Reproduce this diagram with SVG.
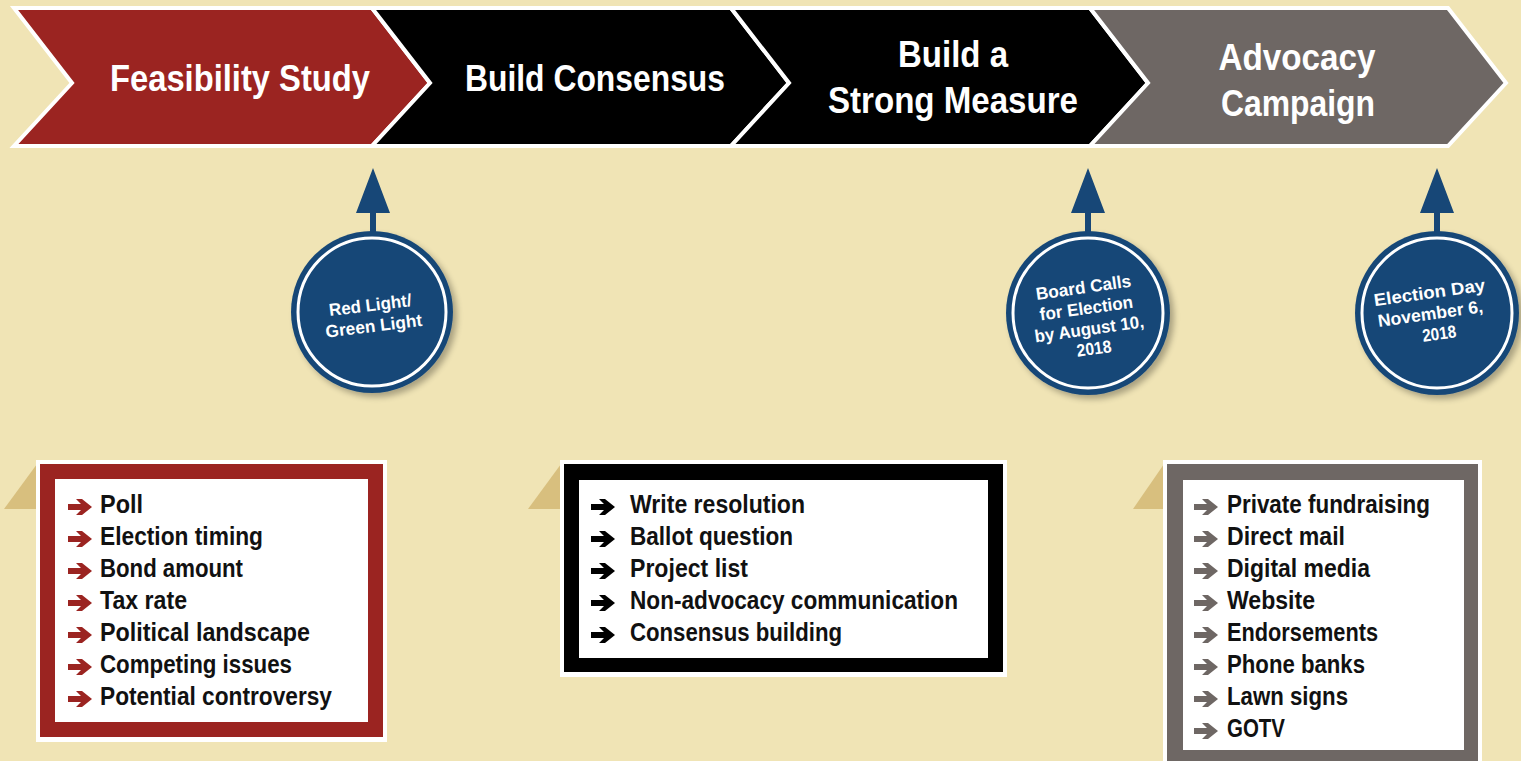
<svg xmlns="http://www.w3.org/2000/svg" width="1521" height="761" viewBox="0 0 1521 761">
<defs>
<style>
.chev{stroke:#fff;stroke-width:4;stroke-linejoin:miter}
.ct{font-family:"Liberation Sans",Arial,sans-serif;font-weight:bold;font-size:37px;fill:#fff;text-anchor:middle}
.cc{font-family:"Liberation Sans",Arial,sans-serif;font-weight:bold;font-size:17.5px;fill:#fff;text-anchor:middle}
.it{font-family:"Liberation Sans",Arial,sans-serif;font-weight:bold;font-size:25px;fill:#111}
.blue{fill:#174777}
.ring{fill:none;stroke:#fff;stroke-width:3}
.tab{fill:#D8BF7E}
</style>
<filter id="sh" x="-30%" y="-30%" width="160%" height="160%">
<feGaussianBlur in="SourceAlpha" stdDeviation="3"/>
<feOffset dx="4" dy="4" result="b"/>
<feComponentTransfer><feFuncA type="linear" slope="0.3"/></feComponentTransfer>
<feMerge><feMergeNode/><feMergeNode in="SourceGraphic"/></feMerge>
</filter>
<path id="arr" d="M0,-3 H13 L8,-8 H14 L24,0 L14,8 H8 L13,3 H0 Z"/>
<path id="pin" d="M-3,0 V-21 H-17 L0,-66 L17,-21 H3 V0 Z"/>
</defs>
<rect width="1521" height="761" fill="#F0E4B5"/>

<g id="stage-feasibility">
<polygon class="chev" fill="#9B2421" points="14,8 372,8 430,83 372,146 14,146 72,83"/>
<text class="ct" x="240" y="91" textLength="260" lengthAdjust="spacingAndGlyphs">Feasibility Study</text>
</g>
<g id="stage-consensus">
<polygon class="chev" fill="#000" points="372,8 731,8 789,83 731,146 372,146 430,83"/>
<text class="ct" x="595" y="91" textLength="260" lengthAdjust="spacingAndGlyphs">Build Consensus</text>
</g>
<g id="stage-measure">
<polygon class="chev" fill="#000" points="731,8 1090,8 1148,83 1090,146 731,146 789,83"/>
<text class="ct" x="953" y="67" textLength="110" lengthAdjust="spacingAndGlyphs">Build a</text>
<text class="ct" x="953" y="113" textLength="250" lengthAdjust="spacingAndGlyphs">Strong Measure</text>
</g>
<g id="stage-advocacy">
<polygon class="chev" fill="#6E6764" points="1090,8 1448,8 1506,83 1448,146 1090,146 1148,83"/>
<text class="ct" x="1297" y="70" textLength="157" lengthAdjust="spacingAndGlyphs">Advocacy</text>
<text class="ct" x="1298" y="116" textLength="154" lengthAdjust="spacingAndGlyphs">Campaign</text>
</g>

<g id="connectors">
<use href="#pin" x="373" y="234" class="blue"/>
<use href="#pin" x="1088" y="234" class="blue"/>
<use href="#pin" x="1437" y="234" class="blue"/>
</g>

<g id="milestone-redlight">
<circle class="blue" cx="372" cy="312" r="81" filter="url(#sh)"/>
<circle class="ring" cx="372" cy="312" r="74"/>
<g transform="rotate(-7 372 320)">
<text class="cc" x="372" y="311" textLength="83" lengthAdjust="spacingAndGlyphs">Red Light/</text>
<text class="cc" x="373" y="332" textLength="97" lengthAdjust="spacingAndGlyphs">Green Light</text>
</g>
</g>
<g id="milestone-board">
<circle class="blue" cx="1088" cy="313" r="82" filter="url(#sh)"/>
<circle class="ring" cx="1088" cy="313" r="75"/>
<g transform="rotate(-8 1088 320)">
<text class="cc" x="1088" y="293" textLength="96" lengthAdjust="spacingAndGlyphs">Board Calls</text>
<text class="cc" x="1088" y="314" textLength="94" lengthAdjust="spacingAndGlyphs">for Election</text>
<text class="cc" x="1088" y="335" textLength="110" lengthAdjust="spacingAndGlyphs">by August 10,</text>
<text class="cc" x="1090" y="355" textLength="35" lengthAdjust="spacingAndGlyphs">2018</text>
</g>
</g>
<g id="milestone-election">
<circle class="blue" cx="1437" cy="313" r="82" filter="url(#sh)"/>
<circle class="ring" cx="1437" cy="313" r="75"/>
<g transform="rotate(-8 1435 318)">
<text class="cc" x="1433" y="298" textLength="112" lengthAdjust="spacingAndGlyphs">Election Day</text>
<text class="cc" x="1431" y="319" textLength="106" lengthAdjust="spacingAndGlyphs">November 6,</text>
<text class="cc" x="1437" y="340" textLength="34" lengthAdjust="spacingAndGlyphs">2018</text>
</g>
</g>

<g id="list-feasibility">
<polygon class="tab" points="4,509 37,509 37,464"/>
<rect x="36" y="460" width="351" height="282" fill="#fff"/>
<rect x="40" y="464" width="343" height="273" fill="#9B2421"/>
<rect x="55" y="479" width="313" height="243" fill="#fff"/>
<g fill="#9B2421">
<use href="#arr" x="68" y="507"/><use href="#arr" x="68" y="539"/><use href="#arr" x="68" y="571"/><use href="#arr" x="68" y="603"/><use href="#arr" x="68" y="635"/><use href="#arr" x="68" y="667"/><use href="#arr" x="68" y="699"/>
</g>
<text class="it" x="100" y="513" textLength="43" lengthAdjust="spacingAndGlyphs">Poll</text>
<text class="it" x="100" y="545" textLength="163" lengthAdjust="spacingAndGlyphs">Election timing</text>
<text class="it" x="100" y="577" textLength="143" lengthAdjust="spacingAndGlyphs">Bond amount</text>
<text class="it" x="100" y="609" textLength="87" lengthAdjust="spacingAndGlyphs">Tax rate</text>
<text class="it" x="100" y="641" textLength="210" lengthAdjust="spacingAndGlyphs">Political landscape</text>
<text class="it" x="100" y="673" textLength="192" lengthAdjust="spacingAndGlyphs">Competing issues</text>
<text class="it" x="100" y="705" textLength="232" lengthAdjust="spacingAndGlyphs">Potential controversy</text>
</g>

<g id="list-consensus">
<polygon class="tab" points="528,509 561,509 561,464"/>
<rect x="560" y="460" width="447" height="217" fill="#fff"/>
<rect x="564" y="464" width="439" height="208" fill="#000"/>
<rect x="579" y="480" width="409" height="178" fill="#fff"/>
<g fill="#000">
<use href="#arr" x="591" y="507"/><use href="#arr" x="591" y="539"/><use href="#arr" x="591" y="571"/><use href="#arr" x="591" y="603"/><use href="#arr" x="591" y="635"/>
</g>
<text class="it" x="630" y="513" textLength="175" lengthAdjust="spacingAndGlyphs">Write resolution</text>
<text class="it" x="630" y="545" textLength="163" lengthAdjust="spacingAndGlyphs">Ballot question</text>
<text class="it" x="630" y="577" textLength="118" lengthAdjust="spacingAndGlyphs">Project list</text>
<text class="it" x="630" y="609" textLength="328" lengthAdjust="spacingAndGlyphs">Non-advocacy communication</text>
<text class="it" x="630" y="641" textLength="212" lengthAdjust="spacingAndGlyphs">Consensus building</text>
</g>

<g id="list-advocacy">
<polygon class="tab" points="1133,509 1164,509 1164,464"/>
<rect x="1163" y="460" width="319" height="320" fill="#fff"/>
<rect x="1167" y="464" width="311" height="320" fill="#6E6764"/>
<rect x="1183" y="480" width="281" height="270" fill="#fff"/>
<g fill="#6E6764">
<use href="#arr" x="1194" y="507"/><use href="#arr" x="1194" y="539"/><use href="#arr" x="1194" y="571"/><use href="#arr" x="1194" y="603"/><use href="#arr" x="1194" y="635"/><use href="#arr" x="1194" y="667"/><use href="#arr" x="1194" y="699"/><use href="#arr" x="1194" y="731"/>
</g>
<text class="it" x="1227" y="513" textLength="203" lengthAdjust="spacingAndGlyphs">Private fundraising</text>
<text class="it" x="1227" y="545" textLength="118" lengthAdjust="spacingAndGlyphs">Direct mail</text>
<text class="it" x="1227" y="577" textLength="143" lengthAdjust="spacingAndGlyphs">Digital media</text>
<text class="it" x="1227" y="609" textLength="88" lengthAdjust="spacingAndGlyphs">Website</text>
<text class="it" x="1227" y="641" textLength="151" lengthAdjust="spacingAndGlyphs">Endorsements</text>
<text class="it" x="1227" y="673" textLength="138" lengthAdjust="spacingAndGlyphs">Phone banks</text>
<text class="it" x="1227" y="705" textLength="121" lengthAdjust="spacingAndGlyphs">Lawn signs</text>
<text class="it" x="1227" y="737" textLength="58" lengthAdjust="spacingAndGlyphs">GOTV</text>
</g>
</svg>
